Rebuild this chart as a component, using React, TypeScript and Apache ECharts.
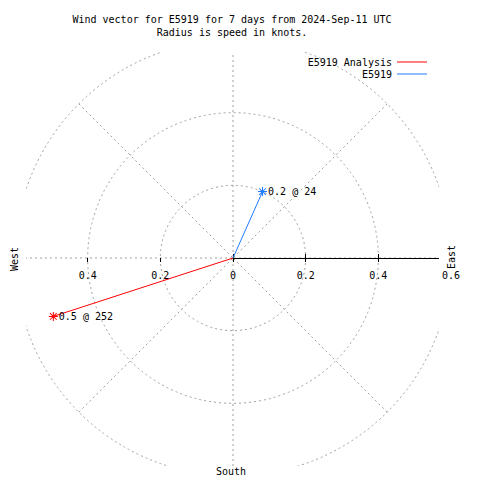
import { useEffect, useRef } from 'react';
import * as echarts from 'echarts';

const titleLines = ['Wind vector for E5919 for 7 days from 2024-Sep-11 UTC', 'Radius is speed in knots.'];
const seriesNames = ['E5919 Analysis', 'E5919'];
const seriesColors = ['#ff0000', '#1e7bff'];
const speeds = [0.52, 0.2];
const directions = [252, 24];
const vectorLabels = ['0.5 @ 252', '0.2 @ 24'];
const rightLabelTicks = [0, 0.2, 0.4];
const westTicks = [0.2, 0.4];
const compassLabels = ['West', 'East', 'South'];

const FONT = "'DejaVu Sans Mono', monospace";
const ASTERISK =
  'path://M4,0h1v9h-1z M0,4h9v1h-9z M0.8,1.5L1.5,0.8L8.2,7.5L7.5,8.2Z M7.5,0.8L8.2,1.5L1.5,8.2L0.8,7.5Z';

export default function App() {
  const ref = useRef<HTMLDivElement>(null);
  useEffect(() => {
    if (!ref.current) return;
    const chart = echarts.init(ref.current, null, { renderer: 'svg' });
    const C = [233, 258];
    const R = 218;
    const dash = { color: '#a0a0a0', width: 1, type: [2, 3] as any };
    const hiddenAngle = (polarIndex: number, startAngle: number) => ({
      polarIndex,
      type: 'value',
      min: 0,
      max: 360,
      startAngle,
      show: false,
    });
    const baseRadius = (polarIndex: number) => ({
      polarIndex,
      type: 'value',
      min: 0,
      max: 0.6,
      interval: 0.2,
    });
    const lbl = { fontFamily: FONT, fontSize: 10, color: '#000' };

    chart.setOption({
      animation: false,
      backgroundColor: '#fff',
      title: {
        text: titleLines.join('\n'),
        left: 232,
        top: 13,
        padding: 0,
        textAlign: 'center',
        textStyle: { fontFamily: FONT, fontSize: 10, fontWeight: 'normal', color: '#000', lineHeight: 13 },
      },
      legend: seriesNames.map((n, i) => ({
        data: [n],
        right: 53,
        top: 57 + i * 12,
        padding: 0,
        orient: 'vertical',
        align: 'right',
        icon: 'rect',
        itemWidth: 30,
        itemHeight: 1,
        selectedMode: false,
        textStyle: { fontFamily: FONT, fontSize: 10, color: '#000' },
      })),
      polar: [0, 1, 2, 3].map(() => ({ center: C, radius: R })),
      angleAxis: [
        {
          polarIndex: 0,
          type: 'value',
          min: 0,
          max: 360,
          interval: 45,
          startAngle: 90,
          clockwise: true,
          axisLine: { show: false },
          axisTick: { show: false },
          axisLabel: { show: false },
          splitLine: { show: true, lineStyle: dash },
          z: 0,
        },
        hiddenAngle(1, 0),
        hiddenAngle(2, 0),
        hiddenAngle(3, 180),
      ],
      radiusAxis: [
        {
          ...baseRadius(0),
          axisLine: { show: false },
          axisTick: { show: false },
          axisLabel: { show: false },
          splitLine: { show: true, lineStyle: dash },
          z: 0,
        },
        {
          ...baseRadius(1),
          axisLine: { show: true, lineStyle: { color: '#000', width: 1 } },
          axisTick: { show: true, length: 4, lineStyle: { color: '#000' } },
          axisLabel: { show: false },
          splitLine: { show: false },
          z: 0,
        },
        {
          ...baseRadius(2),
          axisLine: { show: false },
          axisTick: { show: true, length: -4, customValues: rightLabelTicks, lineStyle: { color: '#000' } },
          axisLabel: { show: true, margin: -22, ...lbl },
          splitLine: { show: false },
          z: 3,
        },
        {
          ...baseRadius(3),
          axisLine: { show: false },
          axisTick: { show: true, length: 4, customValues: westTicks, lineStyle: { color: '#000' } },
          axisLabel: { show: true, margin: 12, customValues: westTicks, ...lbl },
          splitLine: { show: false },
          z: 3,
        },
      ],
      graphic: [
        { type: 'rect', silent: true, z: 1, shape: { x: 0, y: 0, width: 480, height: 52 }, style: { fill: '#fff' } },
        { type: 'rect', silent: true, z: 1, shape: { x: 0, y: 466, width: 480, height: 14 }, style: { fill: '#fff' } },
        { type: 'rect', silent: true, z: 1, shape: { x: 0, y: 0, width: 26, height: 480 }, style: { fill: '#fff' } },
        { type: 'rect', silent: true, z: 1, shape: { x: 439, y: 0, width: 41, height: 480 }, style: { fill: '#fff' } },
        {
          type: 'text', z: 10, x: 14, y: 259, rotation: Math.PI / 2,
          style: { text: compassLabels[0], font: `10px ${FONT}`, fill: '#000', textAlign: 'center', textVerticalAlign: 'middle' },
        },
        {
          type: 'text', z: 10, x: 451, y: 257, rotation: Math.PI / 2,
          style: { text: compassLabels[1], font: `10px ${FONT}`, fill: '#000', textAlign: 'center', textVerticalAlign: 'middle' },
        },
        {
          type: 'text', z: 10, x: 231, y: 471,
          style: { text: compassLabels[2], font: `10px ${FONT}`, fill: '#000', textAlign: 'center', textVerticalAlign: 'middle' },
        },
      ],
      series: seriesNames.map((name, i) => ({
        type: 'line',
        name,
        coordinateSystem: 'polar',
        polarIndex: 0,
        color: seriesColors[i],
        lineStyle: { width: 1, color: seriesColors[i] },
        itemStyle: { color: seriesColors[i] },
        symbol: ASTERISK,
        symbolSize: 9,
        z: 2,
        data: [
          { value: [0, 0], symbol: 'none' },
          {
            value: [speeds[i], directions[i]],
            label: {
              show: true,
              position: 'right',
              distance: 1,
              formatter: vectorLabels[i],
              ...lbl,
            },
          },
        ],
      })),
    });
    return () => chart.dispose();
  }, []);
  return <div ref={ref} style={{ position: 'fixed', left: 0, top: 0, width: 480, height: 480 }} />;
}
